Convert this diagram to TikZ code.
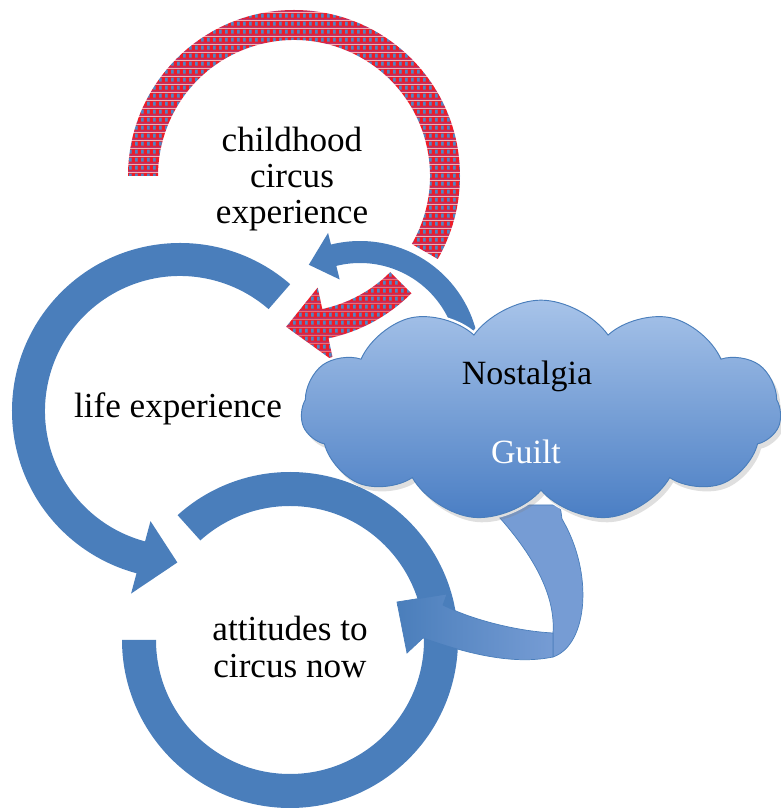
\documentclass[tikz,border=0pt]{standalone}
\usepackage{fontspec}
\setmainfont{Liberation Serif}
\usetikzlibrary{shapes.symbols,shadows,patterns}

\definecolor{ringblue}{HTML}{4A7EBB}
\definecolor{plaidred}{HTML}{EE1C27}
\definecolor{plaidblue}{HTML}{4F86C6}
\definecolor{plaidline}{HTML}{B8366E}
\definecolor{cloudtop}{HTML}{A7C3E9}
\definecolor{cloudbottom}{HTML}{4A7EC4}
\definecolor{ribbonlight}{HTML}{769CD4}

% red and blue plaid of the childhood arrow
\pgfdeclarepatterninherentlycolored{plaid}{\pgfpointorigin}{\pgfqpoint{5.4pt}{7pt}}{\pgfqpoint{5.4pt}{7pt}}{%
  \pgfsetfillcolor{plaidred}
  \pgfpathrectangle{\pgfpointorigin}{\pgfqpoint{5.4pt}{7pt}}\pgfusepath{fill}
  \pgfsetfillcolor{plaidline}
  \pgfpathrectangle{\pgfpointorigin}{\pgfqpoint{5.4pt}{1.2pt}}\pgfusepath{fill}
  \pgfsetfillcolor{plaidblue}
  \pgfpathrectangle{\pgfqpoint{2.9pt}{2.2pt}}{\pgfqpoint{2.3pt}{3.8pt}}\pgfusepath{fill}
}

% #1 start, #2 head base, #3 tip, #4 outer r, #5 inner r, #6/#7 barbs
\newcommand\ringarrow[7]{(#1:#4) arc[start angle=#1, end angle=#2, radius=#4]
  -- (#2:#6) -- (#3:{(#4+#5)/2}) -- (#2:#7) -- (#2:#5)
  arc[start angle=#2, end angle=#1, radius=#5] -- cycle}

\tikzset{
  ringtext/.style={font=\fontsize{30}{31}\selectfont, align=center, inner sep=0pt},
  cloudtext/.style={font=\fontsize{29}{30}\selectfont, inner sep=0pt},
  puffy/.style={cloud, cloud puffs=11, cloud puff arc=110, aspect=2.2,
    minimum width=14.4cm, minimum height=6.65cm, inner sep=0pt}
}

\begin{document}
\begin{tikzpicture}[x=0.03cm, y=0.03cm]
\useasboundingbox (0,0) rectangle (780,809);

\coordinate (childc) at (294,633);
\coordinate (lifec) at (180,398);
\coordinate (nowc) at (290,169);
\coordinate (backc) at (360,448);

% attitudes to circus now
\begin{scope}[shift={(nowc)}]
  \fill[ringblue] (132:168) arc[start angle=132, end angle=-180, radius=168]
    -- (180:134) arc[start angle=-180, end angle=132, radius=134] -- cycle;
\end{scope}

% life experience
\begin{scope}[shift={(lifec)}]
  \fill[ringblue] \ringarrow{49}{255}{269}{168}{135}{189}{114};
\end{scope}

% childhood circus experience
\begin{scope}[shift={(childc)}]
  \fill[pattern=plaid] (180:166) arc[start angle=180, end angle=-30, radius=166]
    -- (-30:136) arc[start angle=-30, end angle=180, radius=136] -- cycle;
  \fill[pattern=plaid] \ringarrow{-45}{-78}{-93}{166}{136}{189}{114};
\end{scope}

% arrow from the cloud back to childhood
\begin{scope}[shift={(backc)}]
  \fill[ringblue] \ringarrow{10}{104}{118}{120}{98}{132}{84};
\end{scope}

% ribbon arrow from the cloud to attitudes
\filldraw[ribbonlight, draw=ringblue, line width=0.6pt]
  (488,304) .. controls (528,262) and (556,218) .. (553,176)
  -- (553,152) .. controls (588,164) and (594,236) .. (562,290) -- (560,304) -- cycle;
\shadedraw[left color=ringblue, right color=ribbonlight, draw=ringblue, line width=0.6pt]
  (553,176) .. controls (515,178) and (470,190) .. (443,204)
  -- (447,215) -- (397,207) -- (407,156) -- (423,171)
  .. controls (460,158) and (510,143) .. (553,152) -- cycle;

% cloud
\node[puffy, draw=white, line width=5pt] (cloudrim) at (541,398) {};
\node[puffy, draw=ringblue, line width=0.8pt, top color=cloudtop, bottom color=cloudbottom,
  drop shadow={shadow xshift=3pt, shadow yshift=-4pt, opacity=0.25}] (cloud) at (541,398) {};

\node[ringtext] (childtext) at (292,630) {childhood\\circus\\experience};
\node[ringtext] (lifetext) at (178,400) {life experience};
\node[ringtext] (nowtext) at (290,162) {attitudes to\\circus now};
\node[cloudtext] (nostalgia) at (527,433) {Nostalgia};
\node[cloudtext, text=white] (guilt) at (526,357) {Guilt};
\end{tikzpicture}
\end{document}
